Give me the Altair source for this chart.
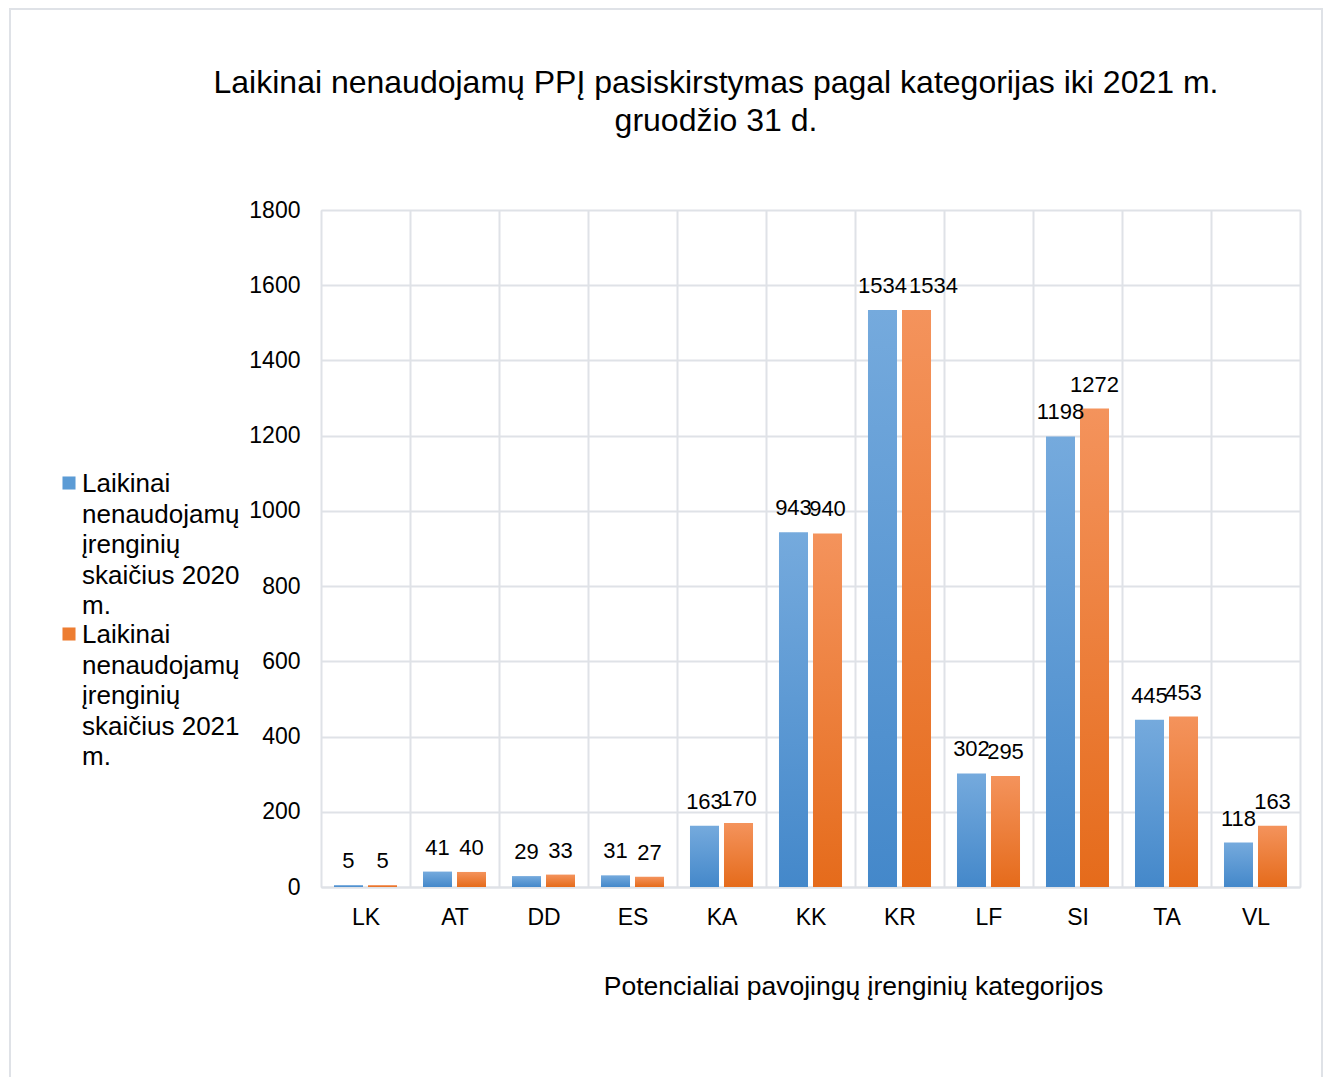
import altair as alt
import pandas as pd

categories = ["LK", "AT", "DD", "ES", "KA", "KK", "KR", "LF", "SI", "TA", "VL"]
values_2020 = [5, 41, 29, 31, 163, 943, 1534, 302, 1198, 445, 118]
values_2021 = [5, 40, 33, 27, 170, 940, 1534, 295, 1272, 453, 163]
series = ["2020", "2021"]
legend_lines = [
    ["Laikinai", "nenaudojamų", "įrenginių", "skaičius 2020", "m."],
    ["Laikinai", "nenaudojamų", "įrenginių", "skaičius 2021", "m."],
]
y_ticks = [0, 200, 400, 600, 800, 1000, 1200, 1400, 1600, 1800]
title_lines = [
    "Laikinai nenaudojamų PPĮ pasiskirstymas pagal kategorijas iki 2021 m.",
    "gruodžio 31 d.",
]
x_title = "Potencialiai pavojingų įrenginių kategorijos"
# label that the original nudged sideways to avoid overlapping its neighbour
shifted_label = ("KR", "2021")

FONT = "Liberation Sans"
GRID = "#dfe2e7"
W, H = 979, 677

gradients = {
    "2020": ("#75aadd", "#4488ca"),
    "2021": ("#f4935c", "#e56b1b"),
}
solid = {"2020": "#5b9bd5", "2021": "#ed7d31"}

rows = []
for c, a, b in zip(categories, values_2020, values_2021):
    rows.append({"cat": c, "series": "2020", "value": a})
    rows.append({"cat": c, "series": "2021", "value": b})
df = pd.DataFrame(rows)

x_enc = alt.X(
    "cat:N",
    sort=categories,
    scale=alt.Scale(paddingInner=0, paddingOuter=0),
    axis=alt.Axis(
        title=x_title,
        labelFontSize=23,
        labelPadding=19,
        labelAngle=0,
        labelColor="#000000",
        labelFont=FONT,
        tickBand="extent",
        grid=True,
        gridColor=GRID,
        gridWidth=2,
        domainColor=GRID,
        domainWidth=2,
        ticks=False,
        titleFont=FONT,
        titleFontSize=26.5,
        titleFontWeight="normal",
        titleColor="#000000",
        titleX=532,
        titleY=99,
        titleBaseline="middle",
    ),
)
xoff_enc = alt.XOffset(
    "series:N", sort=series, scale=alt.Scale(paddingInner=0.147, paddingOuter=0.382)
)
y_enc = alt.Y(
    "value:Q",
    scale=alt.Scale(domain=[0, 1800], nice=False),
    axis=alt.Axis(
        values=y_ticks,
        format="d",
        title=None,
        labelFontSize=23,
        labelFont=FONT,
        labelColor="#000000",
        labelPadding=21,
        ticks=False,
        domain=False,
        grid=True,
        gridColor=GRID,
        gridWidth=2,
    ),
)

one = pd.DataFrame({"k": [0]})
layers = []

frame = alt.Chart(one).mark_rect(
    fill="transparent", stroke=GRID, strokeWidth=2
).encode(
    x=alt.value(-311), x2=alt.value(1001), y=alt.value(-201), y2=alt.value(1000)
)
layers.append(frame)

title = alt.Chart(one).mark_text(
    align="center", baseline="alphabetic", fontSize=32, font=FONT,
    lineHeight=38, color="#000000"
).encode(x=alt.value(395), y=alt.value(-117), text=alt.value(title_lines))
layers.append(title)

for s in series:
    top, bottom = gradients[s]
    grad = alt.LinearGradient(
        gradient="linear",
        x1=0, x2=0, y1=0, y2=1,
        stops=[alt.GradientStop(color=top, offset=0), alt.GradientStop(color=bottom, offset=1)],
    )
    bars = alt.Chart(df).transform_filter(alt.datum.series == s).mark_bar(
        color=grad
    ).encode(x=x_enc, xOffset=xoff_enc, y=y_enc)
    layers.append(bars)

is_shifted = (alt.datum.cat == shifted_label[0]) & (alt.datum.series == shifted_label[1])
labels = alt.Chart(df).transform_filter(~is_shifted).mark_text(
    dy=-24, baseline="middle", fontSize=22, font=FONT, color="#000000"
).encode(x=x_enc, xOffset=xoff_enc, y=y_enc, text="value:Q")
labels_shifted = alt.Chart(df).transform_filter(is_shifted).mark_text(
    dy=-24, dx=17, baseline="middle", fontSize=22, font=FONT, color="#000000"
).encode(x=x_enc, xOffset=xoff_enc, y=y_enc, text="value:Q")
layers.append(labels)
layers.append(labels_shifted)

for i, s in enumerate(series):
    sq = alt.Chart(one).mark_square(
        size=170, color=solid[s], opacity=1
    ).encode(x=alt.value(-252), y=alt.value(273 + i * 151))
    tx = alt.Chart(one).mark_text(
        align="left", baseline="alphabetic", fontSize=26, font=FONT,
        lineHeight=30.5, color="#000000"
    ).encode(x=alt.value(-239), y=alt.value(282 + i * 151), text=alt.value(legend_lines[i]))
    layers.append(sq)
    layers.append(tx)

chart = alt.layer(*layers).properties(
    width=W,
    height=H,
    autosize=alt.AutoSizeParams(type="none"),
    padding={"left": 313, "top": 202, "right": 24, "bottom": 190},
).configure_view(stroke=GRID, strokeWidth=2).configure(background="white")

chart.save("out.html", embed_options={"renderer": "svg", "actions": False})
